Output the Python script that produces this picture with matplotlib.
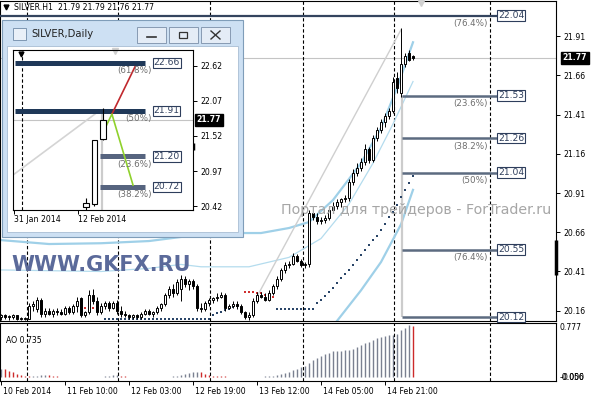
import numpy as np
import matplotlib.pyplot as plt
from matplotlib.patches import Rectangle
from matplotlib.transforms import blended_transform_factory

plt.rcParams['font.family'] = ['DejaVu Sans']

# ---- SILVER H1 candles (bar index 0..103) ----
opens = [20.12, 20.13, 20.12, 20.12, 20.13, 20.11, 20.11, 20.11, 20.19, 20.17,
         20.23, 20.14, 20.16, 20.14, 20.16, 20.15, 20.14, 20.18, 20.15, 20.19,
         20.24, 20.13, 20.15, 20.26, 20.22, 20.15, 20.19, 20.21, 20.18, 20.21,
         20.16, 20.14, 20.13, 20.12, 20.13, 20.12, 20.14, 20.16, 20.14, 20.15,
         20.18, 20.20, 20.26, 20.30, 20.27, 20.30, 20.36, 20.33, 20.35, 20.32,
         20.18, 20.17, 20.21, 20.23, 20.24, 20.25, 20.26, 20.18, 20.19, 20.20,
         20.19, 20.15, 20.12, 20.13, 20.22, 20.26, 20.25, 20.23, 20.27, 20.32,
         20.36, 20.42, 20.45, 20.46, 20.51, 20.48, 20.45, 20.46, 20.78, 20.76,
         20.73, 20.74, 20.75, 20.80, 20.83, 20.85, 20.87, 20.88, 20.98, 21.04,
         21.07, 21.11, 21.19, 21.12, 21.26, 21.31, 21.36, 21.40, 21.43, 21.64,
         21.55, 21.73, 21.80, 21.78]
highs = [20.14, 20.14, 20.13, 20.14, 20.13, 20.12, 20.12, 20.21, 20.22, 20.25,
         20.24, 20.18, 20.18, 20.17, 20.18, 20.17, 20.19, 20.19, 20.20, 20.25,
         20.25, 20.16, 20.29, 20.30, 20.25, 20.21, 20.22, 20.22, 20.22, 20.23,
         20.19, 20.16, 20.14, 20.14, 20.14, 20.15, 20.17, 20.17, 20.16, 20.19,
         20.21, 20.27, 20.32, 20.33, 20.36, 20.39, 20.38, 20.36, 20.36, 20.33,
         20.21, 20.22, 20.24, 20.25, 20.27, 20.28, 20.27, 20.20, 20.22, 20.22,
         20.20, 20.16, 20.15, 20.24, 20.28, 20.28, 20.27, 20.29, 20.33, 20.38,
         20.43, 20.47, 20.48, 20.53, 20.52, 20.49, 20.47, 20.80, 20.81, 20.78,
         20.76, 20.77, 20.81, 20.85, 20.87, 20.88, 20.90, 21.00, 21.06, 21.10,
         21.13, 21.22, 21.20, 21.28, 21.33, 21.38, 21.42, 21.45, 21.65, 21.68,
         21.96, 21.80, 21.82, 21.79]
lows = [20.10, 20.11, 20.10, 20.11, 20.10, 20.10, 20.10, 20.11, 20.16, 20.15,
        20.12, 20.12, 20.13, 20.12, 20.13, 20.13, 20.13, 20.14, 20.14, 20.15,
        20.12, 20.12, 20.14, 20.20, 20.13, 20.14, 20.17, 20.16, 20.17, 20.14,
        20.12, 20.12, 20.11, 20.11, 20.11, 20.11, 20.13, 20.13, 20.12, 20.14,
        20.16, 20.19, 20.24, 20.25, 20.26, 20.22, 20.31, 20.29, 20.30, 20.16,
        20.15, 20.16, 20.19, 20.21, 20.22, 20.24, 20.16, 20.17, 20.18, 20.17,
        20.14, 20.11, 20.10, 20.12, 20.21, 20.24, 20.22, 20.22, 20.26, 20.30,
        20.35, 20.40, 20.43, 20.45, 20.47, 20.44, 20.43, 20.44, 20.74, 20.71,
        20.71, 20.72, 20.74, 20.78, 20.81, 20.82, 20.85, 20.86, 20.96, 21.02,
        21.05, 21.09, 21.10, 21.11, 21.24, 21.29, 21.33, 21.38, 21.42, 21.55,
        21.52, 21.71, 21.75, 21.76]
closes = [20.13, 20.12, 20.12, 20.13, 20.11, 20.11, 20.11, 20.19, 20.20, 20.23,
          20.14, 20.16, 20.14, 20.16, 20.15, 20.14, 20.18, 20.15, 20.19, 20.22,
          20.13, 20.15, 20.26, 20.22, 20.15, 20.19, 20.21, 20.18, 20.21, 20.16,
          20.14, 20.13, 20.12, 20.13, 20.12, 20.14, 20.16, 20.14, 20.15, 20.18,
          20.20, 20.26, 20.30, 20.27, 20.34, 20.36, 20.33, 20.35, 20.32, 20.18,
          20.17, 20.21, 20.23, 20.24, 20.25, 20.26, 20.18, 20.19, 20.20, 20.19,
          20.15, 20.12, 20.13, 20.22, 20.26, 20.25, 20.23, 20.27, 20.32, 20.36,
          20.42, 20.45, 20.46, 20.51, 20.48, 20.45, 20.46, 20.78, 20.76, 20.73,
          20.74, 20.75, 20.80, 20.83, 20.85, 20.87, 20.88, 20.98, 21.04, 21.07,
          21.11, 21.19, 21.12, 21.26, 21.31, 21.36, 21.40, 21.43, 21.62, 21.58,
          21.73, 21.78, 21.76, 21.77]

# dotted moving average pieces (bar index, price)
ma_blue1_x = list(range(26, 60))
ma_blue1 = [20.11] * 27 + [20.133, 20.146, 20.152, 20.165, 20.171, 20.184, 20.19]
ma_red1_x = [20, 21, 22, 23]
ma_red1 = [20.177, 20.177, 20.177, 20.177]
ma_red2_x = list(range(61, 69))
ma_red2 = [20.28, 20.28, 20.28, 20.275, 20.27, 20.26, 20.255, 20.25]
ma_blue2_x = list(range(69, 104))
ma_blue2 = [20.171] * 10 + [20.21, 20.23, 20.254, 20.28, 20.305, 20.337, 20.37,
                            20.394, 20.42, 20.45, 20.483, 20.515, 20.547, 20.578,
                            20.61, 20.636, 20.674, 20.712, 20.757, 20.79, 20.834,
                            20.885, 20.929, 20.974, 21.018]

# envelope bands (vertices)
band_up_x = [0, 12, 25, 37, 45, 55, 65, 72, 77, 83, 90, 95, 99, 103]
band_up = [20.61, 20.585, 20.59, 20.604, 20.63, 20.655, 20.655, 20.687, 20.725,
           20.865, 21.10, 21.324, 21.58, 21.87]
band_mid_x = [0, 25, 37, 45, 50, 62, 72, 80, 87, 93, 98, 103]
band_mid = [20.42, 20.41, 20.43, 20.455, 20.44, 20.44, 20.50, 20.62, 20.84,
            21.10, 21.35, 21.62]
band_low_x = [84, 90, 95, 100, 103]
band_low = [20.095, 20.29, 20.47, 20.71, 20.93]
trend_x = [64, 100]
trend_y = [20.25, 21.95]

# Fibonacci on H1
fib_levels = [22.04, 21.53, 21.26, 21.04, 20.55, 20.12]
fib_pcts = ['(76.4%)', '(23.6%)', '(38.2%)', '(50%)', '(76.4%)', '']
fib_x0, fib_x1 = 100.25, 124
price_ticks = [21.91, 21.66, 21.41, 21.16, 20.91, 20.66, 20.41, 20.16]
last_price = 21.77
sep_bars = [6.5, 29.25, 52.25, 75.5, 98.25, 122.25]
time_bars = [0, 16, 32, 48, 64, 80, 96]
time_labels = ['10 Feb 2014', '11 Feb 10:00', '12 Feb 03:00', '12 Feb 19:00',
               '13 Feb 12:00', '14 Feb 05:00', '14 Feb 21:00']

# Awesome Oscillator
ao = [0.12, 0.11, 0.09, 0.07, 0.05, 0.03, 0.02, 0.01, 0.012, 0.02,
      0.025, 0.028, 0.025, 0.02, 0.015, 0.005, 0.005, 0.005, 0.005, 0.005,
      0.005, 0.005, 0.005, 0.005, 0.005, 0.005, 0.01, 0.02, 0.03, 0.03,
      0.02, 0.01, 0.005, 0.005, 0.005, 0.005, 0.005, 0.005, 0.0, 0.0,
      0.0, 0.0, 0.005, 0.01, 0.02, 0.035, 0.05, 0.065, 0.075, 0.08,
      0.07, 0.05, 0.03, 0.02, 0.015, 0.012, 0.01, 0.008, 0.006, 0.005,
      0.004, 0.003, 0.002, 0.004, 0.006, 0.008, 0.01, 0.015, 0.02, 0.03,
      0.045, 0.06, 0.08, 0.10, 0.12, 0.14, 0.16, 0.20, 0.24, 0.27,
      0.30, 0.33, 0.35, 0.37, 0.375, 0.38, 0.385, 0.39, 0.40, 0.43,
      0.46, 0.49, 0.51, 0.54, 0.56, 0.58, 0.59, 0.60, 0.61, 0.62,
      0.67, 0.71, 0.75, 0.735]
ao_max, ao_min = 0.777, -0.056

# ---- SILVER Daily (inset window) ----
d_x = [0, 1, 2]
d_open = [20.40, 20.45, 21.47]
d_high = [20.55, 21.46, 21.96]
d_low = [20.35, 20.43, 21.45]
d_close = [20.47, 21.45, 21.77]
d_fib = [22.66, 21.91, 21.20, 20.72]
d_pcts = ['(61.8%)', '(50%)', '(23.6%)', '(38.2%)']
d_ticks = [22.62, 22.07, 21.52, 20.97, 20.42]
d_red_x, d_red_y = [3.05, 5.76], [21.86, 22.60]
d_green_x, d_green_y = [2.1, 3.05, 5.53], [21.60, 21.86, 20.75]
d_trend_x, d_trend_y = [-8.59, 1.65], [20.907, 21.92]
d_date_x = [-8.47, -0.94]
d_date_labels = ['31 Jan 2014', '12 Feb 2014']

W, H = 596, 400
fig = plt.figure(figsize=(W / 100, H / 100), dpi=100)


def box(x0, y0, x1, y1):
    return [x0 / W, 1 - y1 / H, (x1 - x0) / W, (y1 - y0) / H]


def draw_candles(a, xs, o, h, l, c, width, lw):
    o, h, l, c = map(np.array, (o, h, l, c))
    a.vlines(xs, l, h, color='black', lw=lw, zorder=4)
    bottom = np.minimum(o, c)
    height = np.maximum(np.abs(c - o), 0.004)
    face = ['white' if cc >= oo else 'black' for oo, cc in zip(o, c)]
    a.bar(xs, height, bottom=bottom, width=width, color=face,
          edgecolor='black', lw=lw, zorder=5)


SMALL = 5.6
LBOX = dict(boxstyle='square,pad=0.1', fc='white', ec='#2e3e5c', lw=0.8)

# ---------------- main H1 panel ----------------
ax = fig.add_axes(box(0, 1, 556, 321))
ax.set_xlim(-0.25, 138.75)
ax.set_ylim(20.0947, 22.133)
bars = np.arange(len(closes))

ax.axhline(last_price, color='#c4c4c4', lw=0.8, zorder=1)
for s in sep_bars:
    ax.axvline(s, color='black', lw=0.8, ls=(0, (3, 2)), zorder=2)

ax.plot(band_up_x, band_up, color='#9fd0e8', lw=1.6, zorder=2)
ax.plot(band_mid_x, band_mid, color='#b4dcee', lw=0.9, zorder=2)
ax.plot(band_low_x, band_low, color='#9fd0e8', lw=1.6, zorder=2)
ax.plot(trend_x, trend_y, color='#cfcfcf', lw=1.0, zorder=2)

for mx, my, mc in ((ma_blue1_x, ma_blue1, '#2a4568'), (ma_blue2_x, ma_blue2, '#2a4568'),
                   (ma_red1_x, ma_red1, '#d03030'), (ma_red2_x, ma_red2, '#d03030')):
    ax.plot(mx, my, ls='none', marker='s', ms=2.0, mew=0, color=mc, zorder=3)

draw_candles(ax, bars, opens, highs, lows, closes, 0.7, 0.7)

# fibonacci
ax.vlines(fib_x0, fib_levels[-1], fib_levels[1], color='#cccccc', lw=1.6, zorder=2)
ax.hlines(fib_levels[0], -0.25, fib_x1, color='#34445e', lw=1.6, zorder=3)
ax.hlines(fib_levels[1:], fib_x0, fib_x1, color='#5c6b80', lw=1.8, zorder=3)
for lvl, pct in zip(fib_levels, fib_pcts):
    ax.text(fib_x1 + 0.3, lvl, f'{lvl:.2f}', ha='left', va='center', fontsize=6.6,
            color='#2e3e5c', zorder=6, bbox=LBOX)
    if pct:
        ax.annotate(pct, (fib_x1 - 2.3, lvl), xytext=(0, -8), textcoords='offset pixels',
                    ha='right', va='center', fontsize=6.3, color='#6e6e6e', zorder=6)

ax.yaxis.tick_right()
ax.set_yticks(price_ticks)
ax.set_yticklabels([f'{p:.2f}' for p in price_ticks])
ax.tick_params(axis='y', labelsize=SMALL, length=3, pad=2, width=0.7)
ax.set_xticks([])
for sp in ax.spines.values():
    sp.set_linewidth(0.8)
bt = blended_transform_factory(ax.transAxes, ax.transData)
ax.text(1.012, last_price, f'{last_price:.2f}', transform=bt, ha='left', va='center',
        fontsize=SMALL, color='white', fontweight='bold',
        bbox=dict(boxstyle='square,pad=0.2', fc='black', ec='black'))

# ---------------- AO panel ----------------
ax_ao = fig.add_axes(box(0, 323, 556, 381))
ax_ao.set_xlim(-0.25, 138.75)
ax_ao.set_ylim(ao_min, ao_max)
ao_col = ['#7a8090' if i == 0 or ao[i] >= ao[i - 1] else '#cc2a2a' for i in range(len(ao))]
ax_ao.vlines(bars, 0, ao, colors=ao_col, lw=1.0)
for s in sep_bars:
    ax_ao.axvline(s, color='black', lw=0.8, ls=(0, (3, 2)))
ax_ao.set_yticks([])
bt2 = blended_transform_factory(ax_ao.transAxes, ax_ao.transData)
ax_ao.text(1.007, ao_max, f'{ao_max:.3f}', transform=bt2, ha='left', va='top', fontsize=SMALL)
# the two bottom scale labels sit on top of each other, as in the terminal
ax_ao.text(1.012, 0.0, '0.000', transform=bt2, ha='left', va='center', fontsize=SMALL)
ax_ao.text(1.007, 0.0, f'{ao_min:.3f}', transform=bt2, ha='left', va='center', fontsize=SMALL)
ax_ao.text(0.01, 0.70, 'AO 0.735', transform=ax_ao.transAxes, ha='left', va='center',
           fontsize=SMALL)
ax_ao.set_xticks(time_bars)
ax_ao.set_xticklabels([])
ax_ao.tick_params(axis='x', length=3, width=0.7, direction='out')
bt3 = blended_transform_factory(ax_ao.transData, ax_ao.transAxes)
for b, lab in zip(time_bars, time_labels):
    ax_ao.text(b + 0.5, -0.1, lab, transform=bt3, ha='left', va='top', fontsize=SMALL)
for sp in ax_ao.spines.values():
    sp.set_linewidth(0.8)

# ---------------- overlay: title, watermarks, window frame ----------------
ov = fig.add_axes([0, 0, 1, 1], zorder=5)
ov.set_xlim(0, W)
ov.set_ylim(H, 0)
ov.axis('off')
ov.plot([6], [7], marker='v', ms=3.5, color='black')
ov.text(14, 7, 'SILVER.H1  21.79 21.79 21.76 21.77', fontsize=SMALL, va='center')
ov.plot([421], [3], marker='v', ms=5, color='#d0d0d0')
ov.plot([556, 556], [240, 275], color='black', lw=2.5, solid_capstyle='butt')
ov.text(281, 210, 'Портал для трейдеров - ForTrader.ru', fontsize=10.3,
        color='#a6a6a6', va='center', ha='left')
ov.text(11, 265, 'WWW.GKFX.RU', fontsize=15, fontweight='bold', color='#5b6a9a',
        va='center', ha='left')

# window
ov.add_patch(Rectangle((2, 20), 241, 217, fc='#cde0f3', ec='#7f9db9', lw=0.8))
ov.add_patch(Rectangle((7, 46), 231, 186, fc='white', ec='#a9bdd3', lw=0.6))
ov.add_patch(Rectangle((13, 28), 13, 12, fc='#e9f0f8', ec='#6f8aa8', lw=0.6))
ov.text(31, 34, 'SILVER,Daily', fontsize=7.2, va='center', color='#222222')
for bx in (137, 169, 201):
    ov.add_patch(Rectangle((bx, 27), 29, 16, fc='#e4ecf6', ec='#7a8ea8', lw=0.6))
ov.plot([147, 156], [37, 37], color='#333333', lw=1.2)
ov.add_patch(Rectangle((179, 32), 8, 6, fc='none', ec='#333333', lw=0.9))
ov.plot([211, 220], [31, 39], color='#333333', lw=1.0)
ov.plot([211, 220], [39, 31], color='#333333', lw=1.0)
ov.plot([193, 193], [143, 150], color='black', lw=2.5, solid_capstyle='butt')

# ---------------- inset daily chart ----------------
ai = fig.add_axes(box(13, 50, 193, 210), zorder=6)
ai.set_xlim(-8.588, 12.588)
ai.set_ylim(20.36, 22.863)
ai.axhline(last_price, color='#c4c4c4', lw=0.8)
ai.axvline(-7.5, color='black', lw=0.8, ls=(0, (3, 2)))
ai.plot(d_trend_x, d_trend_y, color='#d4d4d4', lw=1.2)
ai.vlines(1.88, 20.36, 21.89, color='#cccccc', lw=1.6)
ai.hlines(d_fib[:2], -8.35, 6.94, color='#1f3858', lw=3.6)
ai.hlines(d_fib[2:], 1.65, 6.94, color='#56647f', lw=3.6)
ai.plot(d_red_x, d_red_y, color='#c0282d', lw=1.2)
ai.plot(d_green_x, d_green_y, color='#8fd12c', lw=1.2)
draw_candles(ai, d_x, d_open, d_high, d_low, d_close, 0.6, 0.8)
for lvl, pct in zip(d_fib, d_pcts):
    ai.text(7.95, lvl, f'{lvl:.2f}', ha='left', va='center', fontsize=6.6,
            color='#2e3e5c', zorder=6, bbox=LBOX)
    ai.annotate(pct, (7.76, lvl), xytext=(0, -8), textcoords='offset pixels',
                ha='right', va='center', fontsize=6.3, color='#6e6e6e', zorder=6)
ai.plot([-7.7], [22.80], marker='v', ms=3.5, color='black')
ai.plot([3.4], [22.84], marker='v', ms=5, color='#d0d0d0', clip_on=False)
ai.yaxis.tick_right()
ai.set_yticks(d_ticks)
ai.set_yticklabels([f'{p:.2f}' for p in d_ticks])
ai.tick_params(axis='y', labelsize=SMALL, length=3, pad=2, width=0.7)
ai.set_xticks(d_date_x)
ai.set_xticklabels([])
ai.tick_params(axis='x', length=3, width=0.7)
bt4 = blended_transform_factory(ai.transData, ai.transAxes)
for b, lab in zip(d_date_x, d_date_labels):
    ai.text(b, -0.03, lab, transform=bt4, ha='left', va='top', fontsize=SMALL)
bt5 = blended_transform_factory(ai.transAxes, ai.transData)
ai.text(1.02, last_price, f'{last_price:.2f}', transform=bt5, ha='left', va='center',
        fontsize=SMALL, color='white', fontweight='bold',
        bbox=dict(boxstyle='square,pad=0.2', fc='black', ec='black'))
for sp in ai.spines.values():
    sp.set_linewidth(0.8)

fig.savefig('out.png', dpi=100)
